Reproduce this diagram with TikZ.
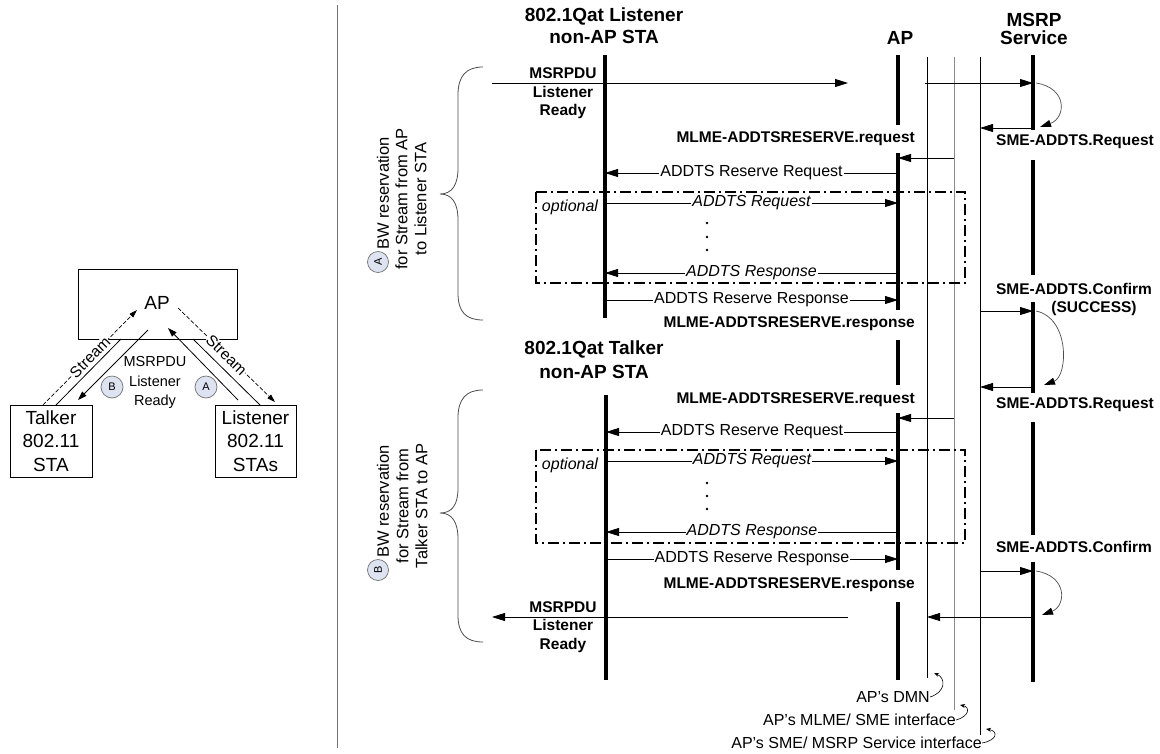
\documentclass[tikz,border=0pt]{standalone}
\usepackage{fontspec}
\setmainfont{Liberation Sans}
\usetikzlibrary{arrows.meta}
\definecolor{cfill}{HTML}{DDE3F0}
\begin{document}
\begin{tikzpicture}[x=1pt,y=-1pt,
  life/.style={line width=3.6pt},
  thinl/.style={line width=0.8pt},
  msg/.style={line width=0.8pt,-{Triangle[length=13pt,width=8pt]}},
  selfloop/.style={line width=0.7pt,draw=black!70,-{Triangle[length=11pt,width=7pt,fill=black,color=black]}},
  lbl/.style={fill=white,inner sep=1pt,font=\fontsize{16}{19}\selectfont},
  ilbl/.style={fill=white,inner sep=1pt,font=\fontsize{16}{19}\selectfont\itshape},
  blbl/.style={inner sep=0pt,align=center,font=\fontsize{15.5}{18.5}\selectfont\bfseries},
  hdr/.style={inner sep=0pt,align=center,font=\fontsize{19}{22}\selectfont\bfseries},
  optbox/.style={line width=1.5pt,dash pattern=on 11pt off 4pt on 2pt off 4pt},
  bracel/.style={line width=0.8pt,draw=black!70},
  circmark/.style={circle,draw=black!55,line width=0.7pt,fill=cfill,inner sep=0pt,minimum size=21pt,font=\fontsize{11}{11}\selectfont},
  rotlbl/.style={inner sep=0pt,rotate=90,align=center,font=\fontsize{16.5}{19}\selectfont},
  boxn/.style={draw,line width=0.8pt,inner sep=0pt,align=center,font=\fontsize{19}{23.5}\selectfont},
  streamline/.style={line width=0.7pt,dash pattern=on 4pt off 2pt,-{Triangle[length=8pt,width=5pt]}},
  streamlbl/.style={fill=white,inner sep=0.5pt,sloped,font=\fontsize{15.5}{15.5}\selectfont},
  smallarrow/.style={line width=0.8pt,-{Triangle[length=9pt,width=6pt]}},
  annlbl/.style={inner sep=0pt,font=\fontsize{16}{19}\selectfont},
  annarrow/.style={line width=0.6pt,-{Stealth[length=5pt,width=4pt]}}
]
\path[fill=white] (0,0) rectangle (1160,753);

% ---------- separator ----------
\coordinate (sep1) at (337,5);
\coordinate (sep2) at (337,748);
\draw[black!55,line width=0.9pt] (sep1) -- (sep2);

% ---------- left overview ----------
\node[draw,line width=0.8pt,minimum width=159pt,minimum height=70pt,inner sep=0pt] (apbox) at (157.5,304) {};
\node[inner sep=0pt,font=\fontsize{19}{19}\selectfont] (aptxt) at (157,303) {AP};
\node[boxn,minimum width=82pt,minimum height=72pt] (tk) at (51,441) {Talker\\802.11\\STA};
\node[boxn,minimum width=81pt,minimum height=72pt] (lst) at (255.5,441) {Listener\\802.11\\STAs};

\coordinate (s1a) at (43,405);  \coordinate (s1b) at (137,310);
\coordinate (s2a) at (178,308); \coordinate (s2b) at (275,402);
\coordinate (l1a) at (56,405);  \coordinate (l1b) at (121,339);
\coordinate (l2a) at (148,330); \coordinate (l2b) at (78,400);
\coordinate (l3a) at (238,400); \coordinate (l3b) at (168,328);
\coordinate (l4a) at (260,405); \coordinate (l4b) at (193,339);
\draw[thinl] (l1a) -- (l1b);
\draw[smallarrow] (l2a) -- (l2b);
\draw[smallarrow] (l3a) -- (l3b);
\draw[thinl] (l4a) -- (l4b);
\draw[streamline] (s1a) -- node[streamlbl]{Stream} (s1b);
\draw[streamline] (s2a) -- node[streamlbl]{Stream} (s2b);
\node[align=center,inner sep=0pt,font=\fontsize{14.5}{19.5}\selectfont] (lpdu) at (155,382.5) {MSRPDU\\Listener\\Ready};
\node[circmark,minimum size=22pt] (lcB) at (112,387) {B};
\node[circmark,minimum size=22pt] (lcA) at (206,387) {A};

% ---------- headers ----------
\node[hdr] (hLS) at (604,26) {802.1Qat Listener\\non-AP STA};
\node[hdr] (hAP) at (900,38) {AP};
\node[hdr,font=\fontsize{19}{17.5}\selectfont\bfseries] (hMR) at (1034,29) {MSRP\\Service};
\node[hdr,font=\fontsize{19}{24}\selectfont\bfseries] (hTK) at (594,360) {802.1Qat Talker\\non-AP STA};

% ---------- lifelines ----------
\coordinate (LS1) at (605,55);  \coordinate (LS2) at (605,318);
\coordinate (TK1) at (606,395); \coordinate (TK2) at (606,680);
\draw[life] (LS1) -- (LS2);
\draw[life] (TK1) -- (TK2);
\coordinate (AP1) at (898,55);  \coordinate (AP2) at (898,125);
\coordinate (AP3) at (898,153); \coordinate (AP4) at (898,310);
\coordinate (AP5) at (898,340); \coordinate (AP6) at (898,385);
\coordinate (AP7) at (898,413); \coordinate (AP8) at (898,570);
\coordinate (AP9) at (898,602); \coordinate (AP10) at (898,680);
\draw[life] (AP1) -- (AP2);
\draw[life] (AP3) -- (AP4);
\draw[life] (AP5) -- (AP6);
\draw[life] (AP7) -- (AP8);
\draw[life] (AP9) -- (AP10);
\coordinate (MR1) at (1033,55);  \coordinate (MR2) at (1033,130);
\coordinate (MR3) at (1033,160); \coordinate (MR4) at (1033,275);
\coordinate (MR5) at (1033,302); \coordinate (MR6) at (1033,393);
\coordinate (MR7) at (1033,422); \coordinate (MR8) at (1033,535);
\coordinate (MR9) at (1033,562); \coordinate (MR10) at (1033,682);
\draw[life] (MR1) -- (MR2);
\draw[life] (MR3) -- (MR4);
\draw[life] (MR5) -- (MR6);
\draw[life] (MR7) -- (MR8);
\draw[life] (MR9) -- (MR10);
\coordinate (DM1) at (927,57);  \coordinate (DM2) at (927,678);
\coordinate (MS1) at (954,57);  \coordinate (MS2) at (954,710);
\coordinate (SM1) at (980,57);  \coordinate (SM2) at (980,735);
\draw[line width=0.8pt] (DM1) -- (DM2);
\draw[line width=0.9pt,black!45] (MS1) -- (MS2);
\draw[line width=0.8pt] (SM1) -- (SM2);

% ---------- braces ----------
\coordinate (bA1) at (483,67); \coordinate (bAt) at (440,194); \coordinate (bA2) at (483,320);
\draw[bracel] (bA1) .. controls (466,67) and (458,76) .. (458,95) -- (458,168)
  .. controls (458,185) and (452,194) .. (bAt)
  .. controls (452,194) and (458,203) .. (458,220) -- (458,293)
  .. controls (458,312) and (466,320) .. (bA2);
\coordinate (bB1) at (483,390); \coordinate (bBt) at (440,513); \coordinate (bB2) at (483,642);
\draw[bracel] (bB1) .. controls (466,390) and (458,399) .. (458,418) -- (458,488)
  .. controls (458,505) and (452,513) .. (bBt)
  .. controls (452,513) and (458,522) .. (458,539) -- (458,615)
  .. controls (458,634) and (466,642) .. (bB2);

\node[circmark,rotate=90] (cA) at (378,262) {A};
\node[rotlbl,anchor=west] (bwA1) at (383,250) {BW reservation};
\node[rotlbl] (bwA2) at (411,199) {for Stream from AP\\to Listener STA};
\node[circmark,rotate=90] (cB) at (378,570) {B};
\node[rotlbl,anchor=west] (bwB1) at (383,558) {BW reservation};
\node[rotlbl] (bwB2) at (412,506) {for Stream from\\Talker STA to AP};

% ---------- section A messages ----------
\node[blbl] (pduA) at (563,93.5) {MSRPDU\\Listener\\Ready};
\coordinate (a1s) at (492,83);  \coordinate (a1e) at (848,83);
\draw[msg] (a1s) -- (a1e);
\coordinate (a2s) at (925,83);  \coordinate (a2e) at (1033,83);
\draw[msg] (a2s) -- (a2e);
\coordinate (a3s) at (1036,83); \coordinate (a3e) at (1040,127);
\draw[selfloop] (a3s) .. controls (1068,88) and (1066,118) .. (a3e);
\coordinate (a4s) at (1033,128); \coordinate (a4e) at (980,128);
\draw[msg] (a4s) -- (a4e);
\node[blbl] (sreqA) at (1075,142) {SME-ADDTS.Request};
\node[blbl,anchor=east] (mreqA) at (915,139) {MLME-ADDTSRESERVE.request};
\coordinate (a5s) at (954,158); \coordinate (a5e) at (898,158);
\draw[msg] (a5s) -- (a5e);
\coordinate (a6s) at (898,173); \coordinate (a6e) at (605,173);
\draw[msg] (a6s) -- node[lbl]{ADDTS Reserve Request} (a6e);
\coordinate (oA1) at (536,192); \coordinate (oA2) at (965,283);
\draw[optbox] (oA1) rectangle (oA2);
\node[inner sep=0pt,font=\fontsize{16}{19}\selectfont\itshape] (optA) at (570,207) {optional};
\coordinate (a7s) at (605,203); \coordinate (a7e) at (898,203);
\draw[msg] (a7s) -- node[ilbl]{ADDTS Request} (a7e);
\fill (707,223) circle (1.4pt) (707,237) circle (1.4pt) (707,250) circle (1.4pt);
\coordinate (a8s) at (898,273); \coordinate (a8e) at (605,273);
\draw[msg] (a8s) -- node[ilbl]{ADDTS Response} (a8e);
\coordinate (a9s) at (605,300); \coordinate (a9e) at (898,300);
\draw[msg] (a9s) -- node[lbl]{ADDTS Reserve Response} (a9e);
\node[blbl,anchor=east] (mrspA) at (915,324) {MLME-ADDTSRESERVE.response};
\node[blbl] (scfA) at (1074,289) {SME-ADDTS.Confirm};
\node[blbl] (succA) at (1094,308) {(SUCCESS)};
\coordinate (a10s) at (980,311); \coordinate (a10e) at (1033,311);
\draw[msg] (a10s) -- (a10e);
\coordinate (a11s) at (1036,311); \coordinate (a11e) at (1044,385);
\draw[selfloop] (a11s) .. controls (1070,318) and (1068,376) .. (a11e);
\coordinate (a12s) at (1033,387); \coordinate (a12e) at (980,387);
\draw[msg] (a12s) -- (a12e);

% ---------- section B messages ----------
\node[blbl,anchor=east] (mreqB) at (915,400) {MLME-ADDTSRESERVE.request};
\node[blbl] (sreqB) at (1075,405) {SME-ADDTS.Request};
\coordinate (b1s) at (954,418); \coordinate (b1e) at (898,418);
\draw[msg] (b1s) -- (b1e);
\coordinate (b2s) at (898,432); \coordinate (b2e) at (606,432);
\draw[msg] (b2s) -- node[lbl]{ADDTS Reserve Request} (b2e);
\coordinate (oB1) at (536,450); \coordinate (oB2) at (965,543);
\draw[optbox] (oB1) rectangle (oB2);
\node[inner sep=0pt,font=\fontsize{16}{19}\selectfont\itshape] (optB) at (570,465) {optional};
\coordinate (b3s) at (606,461); \coordinate (b3e) at (898,461);
\draw[msg] (b3s) -- node[ilbl]{ADDTS Request} (b3e);
\fill (707,483) circle (1.4pt) (707,496) circle (1.4pt) (707,509) circle (1.4pt);
\coordinate (b4s) at (898,532); \coordinate (b4e) at (606,532);
\draw[msg] (b4s) -- node[ilbl]{ADDTS Response} (b4e);
\coordinate (b5s) at (606,559); \coordinate (b5e) at (898,559);
\draw[msg] (b5s) -- node[lbl]{ADDTS Reserve Response} (b5e);
\node[blbl,anchor=east] (mrspB) at (915,585) {MLME-ADDTSRESERVE.response};
\node[blbl] (scfB) at (1074,547) {SME-ADDTS.Confirm};
\coordinate (b6s) at (980,571); \coordinate (b6e) at (1033,571);
\draw[msg] (b6s) -- (b6e);
\coordinate (b7s) at (1036,571); \coordinate (b7e) at (1042,615);
\draw[selfloop] (b7s) .. controls (1068,576) and (1066,606) .. (b7e);
\coordinate (b8s) at (1033,617); \coordinate (b8e) at (927,617);
\draw[msg] (b8s) -- (b8e);
\coordinate (b9s) at (848,617); \coordinate (b9e) at (492,617);
\draw[msg] (b9s) -- (b9e);
\node[blbl] (pduB) at (563,627) {MSRPDU\\Listener\\Ready};

% ---------- bottom annotations ----------
\node[annlbl,anchor=east] (nDMN) at (930,697) {AP’s DMN};
\draw[annarrow] (nDMN.east) .. controls (946,692) and (946,678) .. (934,673);
\node[annlbl,anchor=east] (nMS) at (956,720) {AP’s MLME/ SME interface};
\draw[annarrow] (nMS.east) .. controls (970,716) and (970,707) .. (960,705);
\node[annlbl,anchor=east] (nSM) at (982,743) {AP’s SME/ MSRP Service interface};
\draw[annarrow] (nSM.east) .. controls (998,740) and (998,731) .. (986,729);
\end{tikzpicture}
\end{document}
